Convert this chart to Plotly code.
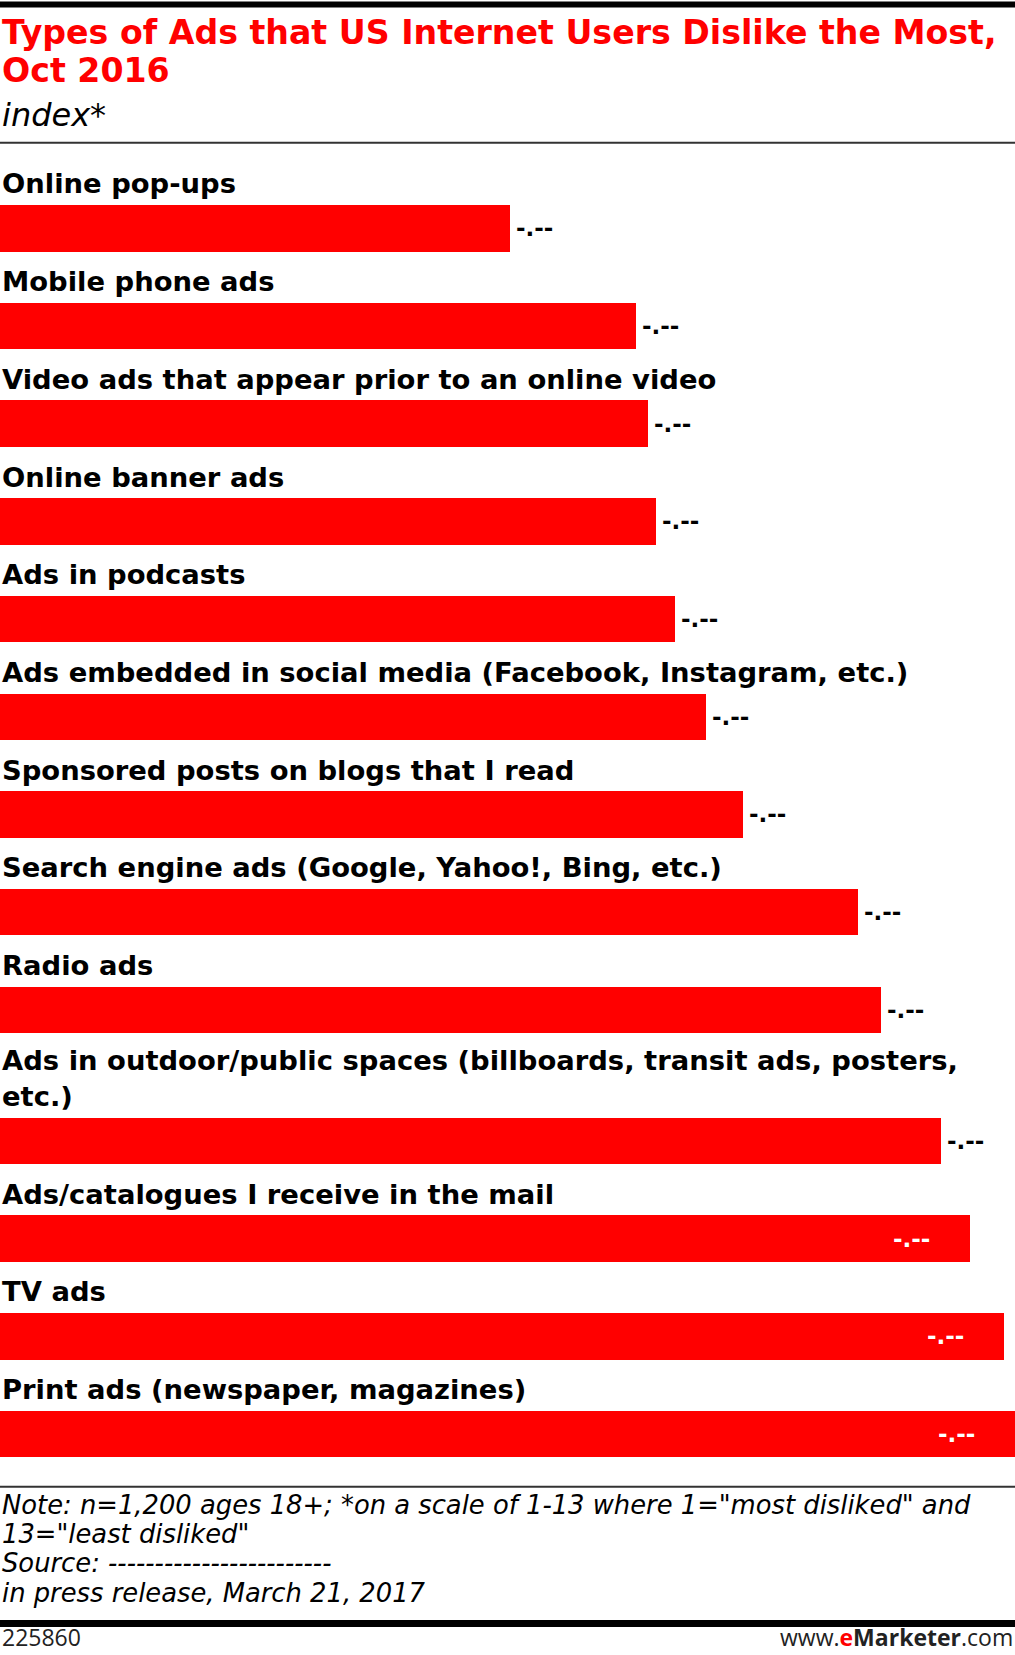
import textwrap
import plotly.graph_objects as go

# ---------------- data ----------------
categories = [
    "Online pop-ups",
    "Mobile phone ads",
    "Video ads that appear prior to an online video",
    "Online banner ads",
    "Ads in podcasts",
    "Ads embedded in social media (Facebook, Instagram, etc.)",
    "Sponsored posts on blogs that I read",
    "Search engine ads (Google, Yahoo!, Bing, etc.)",
    "Radio ads",
    "Ads in outdoor/public spaces (billboards, transit ads, posters, etc.)",
    "Ads/catalogues I receive in the mail",
    "TV ads",
    "Print ads (newspaper, magazines)",
]
index_values = [5.02, 6.27, 6.38, 6.46, 6.65, 6.96, 7.32, 8.45, 8.68, 9.27, 9.56, 9.89, 10.0]
value_labels = ["-.--"] * len(categories)

title_lines = ["Types of Ads that US Internet Users Dislike the Most,", "Oct 2016"]
subtitle = "index*"
note_lines = [
    'Note: n=1,200 ages 18+; *on a scale of 1-13 where 1="most disliked" and',
    '13="least disliked"',
    "Source: ------------------------",
    "in press release, March 21, 2017",
]
chart_id = "225860"

# ---------------- layout constants ----------------
W, H = 1015, 1655
X_MAX = 10.0
FIRST_TOP = 205.0
PITCH = 97.7
EXTRA_LINE = 33.3
BAR_H = 46.5
RED = "#ff0000"
BOLD = "DejaVu Sans"
ITAL = "DejaVu Sans"

wrapped = [textwrap.wrap(c, 64) for c in categories]
tops = []
extra = 0
for i, lines in enumerate(wrapped):
    extra += len(lines) - 1
    tops.append(FIRST_TOP + PITCH * i + EXTRA_LINE * extra)
centers = [t + BAR_H / 2 for t in tops]

fig = go.Figure()
fig.add_trace(go.Bar(
    x=index_values, y=centers, orientation="h", width=BAR_H,
    marker=dict(color=RED, line=dict(width=0)), hoverinfo="skip",
))

ann = []
LBL = 27.4
for lines, top in zip(wrapped, tops):
    ann.append(dict(text="<br>".join(lines), x=0, xref="paper", y=top - 3.6, yref="y",
                    xanchor="left", yanchor="bottom", showarrow=False, align="left",
                    font=dict(family=BOLD, size=LBL, color="black", weight="bold")))

for v, lab, c in zip(index_values, value_labels, centers):
    end_px = v / X_MAX * W
    inside = end_px + 50 > W
    ann.append(dict(text=lab, x=v, xref="x", y=c, yref="y",
                    xanchor="right" if inside else "left", yanchor="middle",
                    xshift=-38 if inside else 4, showarrow=False,
                    font=dict(family=BOLD, size=23, color="white" if inside else "black",
                              weight="bold")))

TS = 33.2
for line, base in zip(title_lines, [45.0, 83.3]):
    ann.append(dict(text=line, x=0, xref="paper", y=base + 0.236 * TS + 1, yref="y",
                    xanchor="left", yanchor="bottom", showarrow=False,
                    font=dict(family=BOLD, size=TS, color=RED, weight="bold")))

SS = 32
ann.append(dict(text=subtitle, x=0, xref="paper", y=127.7 + 0.236 * SS + 1, yref="y",
                xanchor="left", yanchor="bottom", showarrow=False,
                font=dict(family=ITAL, size=SS, color="black", style="italic")))

NS = 25.8
for line, base in zip(note_lines, [1515.0, 1544.0, 1573.5, 1603.0]):
    ann.append(dict(text=line, x=0, xref="paper", y=base + 0.236 * NS + 0.5, yref="y",
                    xanchor="left", yanchor="bottom", showarrow=False,
                    font=dict(family=ITAL, size=NS, color="black", style="italic")))

FS = 23
ann.append(dict(text=chart_id, x=0, xref="paper", y=0, yref="paper",
                xanchor="left", yanchor="bottom", showarrow=False,
                font=dict(family="Open Sans", size=FS, color="#222222")))
ann.append(dict(text="www.<b><span style='color:#ff0000'>e</span>Marketer</b>.com",
                x=1, xref="paper", y=0, yref="paper",
                xanchor="right", yanchor="bottom", showarrow=False,
                font=dict(family="Open Sans", size=FS, color="#222222")))

shapes = [
    dict(type="rect", xref="paper", yref="y", x0=0, x1=1, y0=1.5, y1=7.5,
         fillcolor="black", line=dict(width=0)),
    dict(type="line", xref="paper", yref="y", x0=0, x1=1, y0=142.7, y1=142.7,
         line=dict(color="#333333", width=2)),
    dict(type="line", xref="paper", yref="y", x0=0, x1=1, y0=1486.7, y1=1486.7,
         line=dict(color="#333333", width=2)),
    dict(type="rect", xref="paper", yref="y", x0=0, x1=1, y0=1620, y1=1627,
         fillcolor="black", line=dict(width=0)),
]

fig.update_layout(
    width=W, height=H, margin=dict(l=0, r=0, t=0, b=0),
    paper_bgcolor="white", plot_bgcolor="white", showlegend=False,
    xaxis=dict(range=[0, X_MAX], visible=False, fixedrange=True),
    yaxis=dict(range=[H, 0], visible=False, fixedrange=True),
    annotations=ann, shapes=shapes, bargap=0,
)

fig.write_html(
    "out.html",
    config={"displayModeBar": False},
    post_script="document.body.style.margin='0px';document.body.style.overflow='hidden';",
)
